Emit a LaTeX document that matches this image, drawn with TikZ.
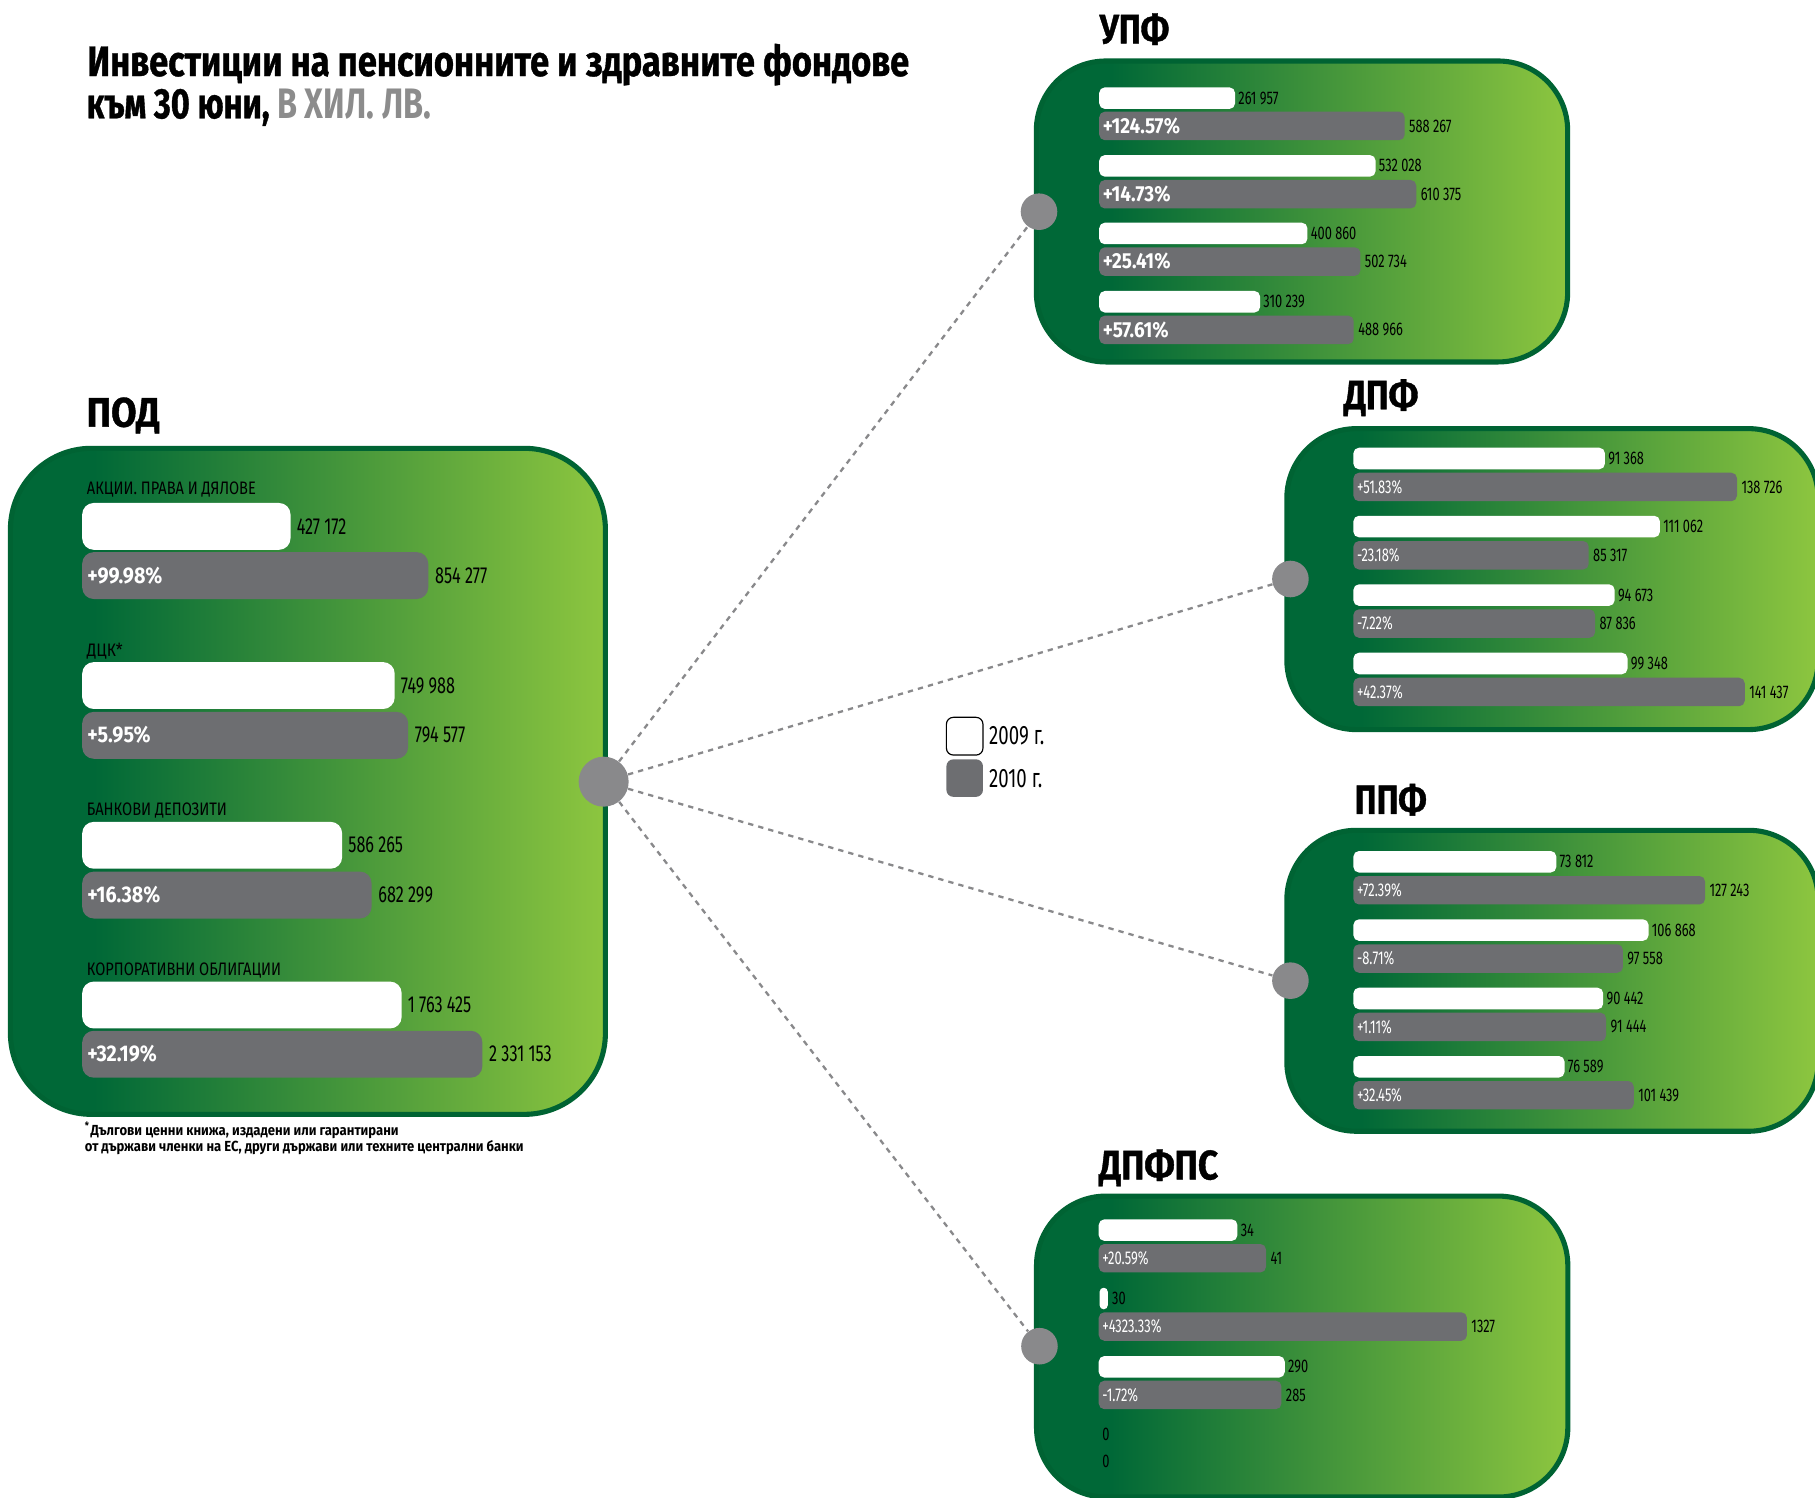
\documentclass[tikz,border=0pt]{standalone}
\usepackage{fontspec}
\usepackage{graphicx}
\setmainfont[FakeStretch=0.7]{Fira Sans}
\newfontfamily\pctfont[FakeStretch=0.87]{Fira Sans}
\newfontfamily\heavyfont[FakeStretch=0.7,FakeBold=0.8]{Fira Sans}
\definecolor{dg}{RGB}{0,104,55}
\definecolor{bord}{RGB}{0,99,51}
\definecolor{lg}{RGB}{141,198,63}
\definecolor{barg}{RGB}{109,110,113}
\definecolor{dotg}{RGB}{137,137,139}
\definecolor{subg}{RGB}{140,140,140}
\pgfdeclarehorizontalshading{boxgrad}{100bp}{color(0bp)=(dg); color(32bp)=(dg); color(75bp)=(lg); color(100bp)=(lg)}
\newcount\lc
\tikzset{
  fundbox/.style={draw=bord, line width=2.2pt, shading=boxgrad, rounded corners=30pt, inner sep=0pt},
  smallbox/.style={fundbox, minimum width=229.5pt, minimum height=130pt},
  dot/.style={circle, fill=dotg, inner sep=0pt, minimum size=15.8pt},
  dashline/.style={draw=dotg, line width=1pt, dash pattern=on 2.3pt off 2.2pt},
  snum/.style={anchor=west, inner sep=0pt, font=\fontsize{7.9}{8}\selectfont},
  spctb/.style={anchor=west, inner sep=0pt, text=white, font=\fontsize{9.4}{10}\selectfont\pctfont\bfseries},
  spctr/.style={anchor=west, inner sep=0pt, text=white, font=\fontsize{8}{9}\selectfont},
  bnum/.style={anchor=west, inner sep=0pt, font=\fontsize{10}{10}\selectfont},
  bpct/.style={anchor=west, inner sep=0pt, text=white, font=\fontsize{9.8}{10}\selectfont\pctfont\bfseries},
  cat/.style={anchor=base west, inner sep=0pt, font=\fontsize{7.8}{8}\selectfont},
  sect/.style={anchor=base west, inner sep=0pt, font=\fontsize{17.8}{18}\selectfont\heavyfont\bfseries},
  legtext/.style={anchor=west, inner sep=0pt, font=\fontsize{11.5}{12}\selectfont},
}
% small-box row: xstart, white top, white end, white label, gray top, gray end, pct, gray label
\newcommand\srow[8]{%
  \fill[white,rounded corners=2.4pt] (#1,#2) rectangle (#3,#2+18.6);
  \global\advance\lc by 1
  \node[snum] (w\the\lc) at (#3+2.5,#2+9.3) {#4};
  \fill[barg,rounded corners=2.4pt] (#1,#5) rectangle (#6,#5+24.6);
  \node[spct] (p\the\lc) at (#1+2.8,#5+12.3) {#7};
  \node[snum] (g\the\lc) at (#6+3.5,#5+12.3) {#8};
}
% big-box row: white top, white end, white label, gray top, gray end, pct, gray label
\newcommand\prow[7]{%
  \fill[white,rounded corners=5pt] (71,#1) rectangle (#2,#1+40.5);
  \global\advance\lc by 1
  \node[bnum] (w\the\lc) at (#2+5,#1+20.2) {#3};
  \fill[barg,rounded corners=5pt] (71,#4) rectangle (#5,#4+40.5);
  \node[bpct] (p\the\lc) at (75,#4+20.2) {#6};
  \node[bnum] (g\the\lc) at (#5+5.5,#4+20.2) {#7};
}
\begin{document}
\begin{tikzpicture}[x=0.5pt,y=-0.5pt]
\useasboundingbox (0,0) rectangle (1568,1294);
% title
\node[anchor=base west, inner sep=0pt] (title1) at (75,65.7)
  {\resizebox{355pt}{\height}{\fontsize{18.4}{20}\selectfont\heavyfont\bfseries Инвестиции на пенсионните и здравните фондове}};
\node[anchor=base west, inner sep=0pt] (title2) at (74.5,102.2)
  {\resizebox{148.75pt}{\height}{\fontsize{18.4}{20}\selectfont\bfseries{\heavyfont към 30 юни,} {\color{subg}В ХИЛ. ЛВ.}}};
% section labels
\node[sect] (lpod) at (74.4,368.6) {\resizebox{31.5pt}{\height}{ПОД}};
\node[sect] (lupf) at (949.6,37.5) {\resizebox{30pt}{\height}{УПФ}};
\node[sect] (ldpf) at (1160.8,353.6) {\resizebox{32pt}{\height}{ДПФ}};
\node[sect] (lppf) at (1170,703.2) {\resizebox{31pt}{\height}{ППФ}};
\node[sect] (ldpfs) at (949,1018.9) {\resizebox{51.5pt}{\height}{ДПФПС}};
% boxes
\node[fundbox, minimum width=257pt, minimum height=287.7pt, rounded corners=35pt] (pod) at (266,675) {};
\node[smallbox] (upf) at (1124.8,182.7) {};
\node[smallbox] (dpf) at (1341.2,500.3) {};
\node[smallbox] (ppf) at (1341.2,847.3) {};
\node[smallbox] (dpfs) at (1124.95,1163.3) {};
% circles
\node[dot, minimum size=21.6pt] (cpod) at (521.5,675.3) {};
\node[dot] (cupf) at (897.6,182.9) {};
\node[dot] (cdpf) at (1114.8,500.2) {};
\node[dot] (cppf) at (1114.8,847.2) {};
\node[dot] (cdpfs) at (898,1163) {};
\draw[dashline] (cpod) -- (cupf);
\draw[dashline] (cpod) -- (cdpf);
\draw[dashline] (cpod) -- (cppf);
\draw[dashline] (cpod) -- (cdpfs);
% POD contents
\node[cat] (c1) at (74.7,427.5) {\resizebox{73pt}{\height}{АКЦИИ. ПРАВА И ДЯЛОВЕ}};
\node[cat] (c2) at (74.7,567) {\resizebox{15.5pt}{\height}{ДЦК*}};
\node[cat] (c3) at (74.7,704.2) {\resizebox{60.5pt}{\height}{БАНКОВИ ДЕПОЗИТИ}};
\node[cat] (c4) at (74.7,842.6) {\resizebox{83.9pt}{\height}{КОРПОРАТИВНИ ОБЛИГАЦИИ}};
\prow{434.5}{251}{427 172}{477}{370}{+99.98\%}{854 277}
\prow{572}{341}{749 988}{615}{352.6}{+5.95\%}{794 577}
\prow{710}{295.6}{586 265}{753}{321}{+16.38\%}{682 299}
\prow{848}{347}{1 763 425}{890.5}{416.7}{+32.19\%}{2 331 153}
% footnote
\node[anchor=base west, inner sep=0pt] (fn1) at (73,981)
  {\resizebox{135.5pt}{\height}{\fontsize{6.3}{7}\selectfont\bfseries \textsuperscript{*}Дългови ценни книжа, издадени или гарантирани}};
\node[anchor=base west, inner sep=0pt] (fn2) at (73,995)
  {\resizebox{189.5pt}{\height}{\fontsize{6.3}{7}\selectfont\bfseries от държави членки на ЕС, други държави или техните централни банки}};
% UPF
\begin{scope}[spct/.style={spctb}]
\srow{949.6}{75.5}{1067}{261 957}{96.5}{1213.5}{+124.57\%}{588 267}
\srow{949.6}{134}{1188.4}{532 028}{155.5}{1223.5}{+14.73\%}{610 375}
\srow{949.6}{192.4}{1129.5}{400 860}{213.7}{1175.3}{+25.41\%}{502 734}
\srow{949.6}{251.4}{1088.6}{310 239}{272.7}{1169.5}{+57.61\%}{488 966}
\end{scope}
\begin{scope}[spct/.style={spctr}]
% DPF
\srow{1169.2}{386.8}{1386.5}{91 368}{408.4}{1500.6}{+51.83\%}{138 726}
\srow{1169.2}{445.6}{1434}{111 062}{467.4}{1372.5}{-23.18\%}{85 317}
\srow{1169.2}{504.8}{1394.9}{94 673}{526.4}{1378}{-7.22\%}{87 836}
\srow{1169.2}{563.9}{1406}{99 348}{585.5}{1507.3}{+42.37\%}{141 437}
% PPF
\srow{1169.2}{735.2}{1344.5}{73 812}{756.8}{1473}{+72.39\%}{127 243}
\srow{1169.2}{794.2}{1424.2}{106 868}{815.8}{1402}{-8.71\%}{97 558}
\srow{1169.2}{853.3}{1385}{90 442}{874.9}{1387.5}{+1.11\%}{91 444}
\srow{1169.2}{912.3}{1351.6}{76 589}{933.9}{1411.4}{+32.45\%}{101 439}
% DPFPS
\srow{949.2}{1053.4}{1069}{34}{1074.7}{1093.7}{+20.59\%}{41}
\fill[white,rounded corners=1.7pt] (950,1112.5) rectangle (957,1131.1);
\node[snum] (w30) at (960.4,1121.8) {30};
\fill[barg,rounded corners=2.4pt] (949.2,1133.7) rectangle (1267.3,1158.3);
\node[spct] (p4323) at (952,1146) {+4323.33\%};
\node[snum] (g1327) at (1270.8,1146) {1327};
\srow{949.2}{1171.5}{1109.9}{290}{1192.8}{1107}{-1.72\%}{285}
\node[snum] (z1) at (952,1238.9) {0};
\node[snum] (z2) at (952,1262.2) {0};
\end{scope}
% legend
\node[draw=black, line width=0.5pt, fill=white, rounded corners=3pt, minimum width=15.8pt, minimum height=16.3pt, inner sep=0pt] (leg09) at (833.4,636) {};
\node[fill=barg, rounded corners=3pt, minimum width=15.8pt, minimum height=16.2pt, inner sep=0pt] (leg10) at (833.4,672.2) {};
\node[legtext] (t09) at (854.2,635.9) {2009 г.};
\node[legtext] (t10) at (854.2,672.4) {2010 г.};
\end{tikzpicture}
\end{document}
